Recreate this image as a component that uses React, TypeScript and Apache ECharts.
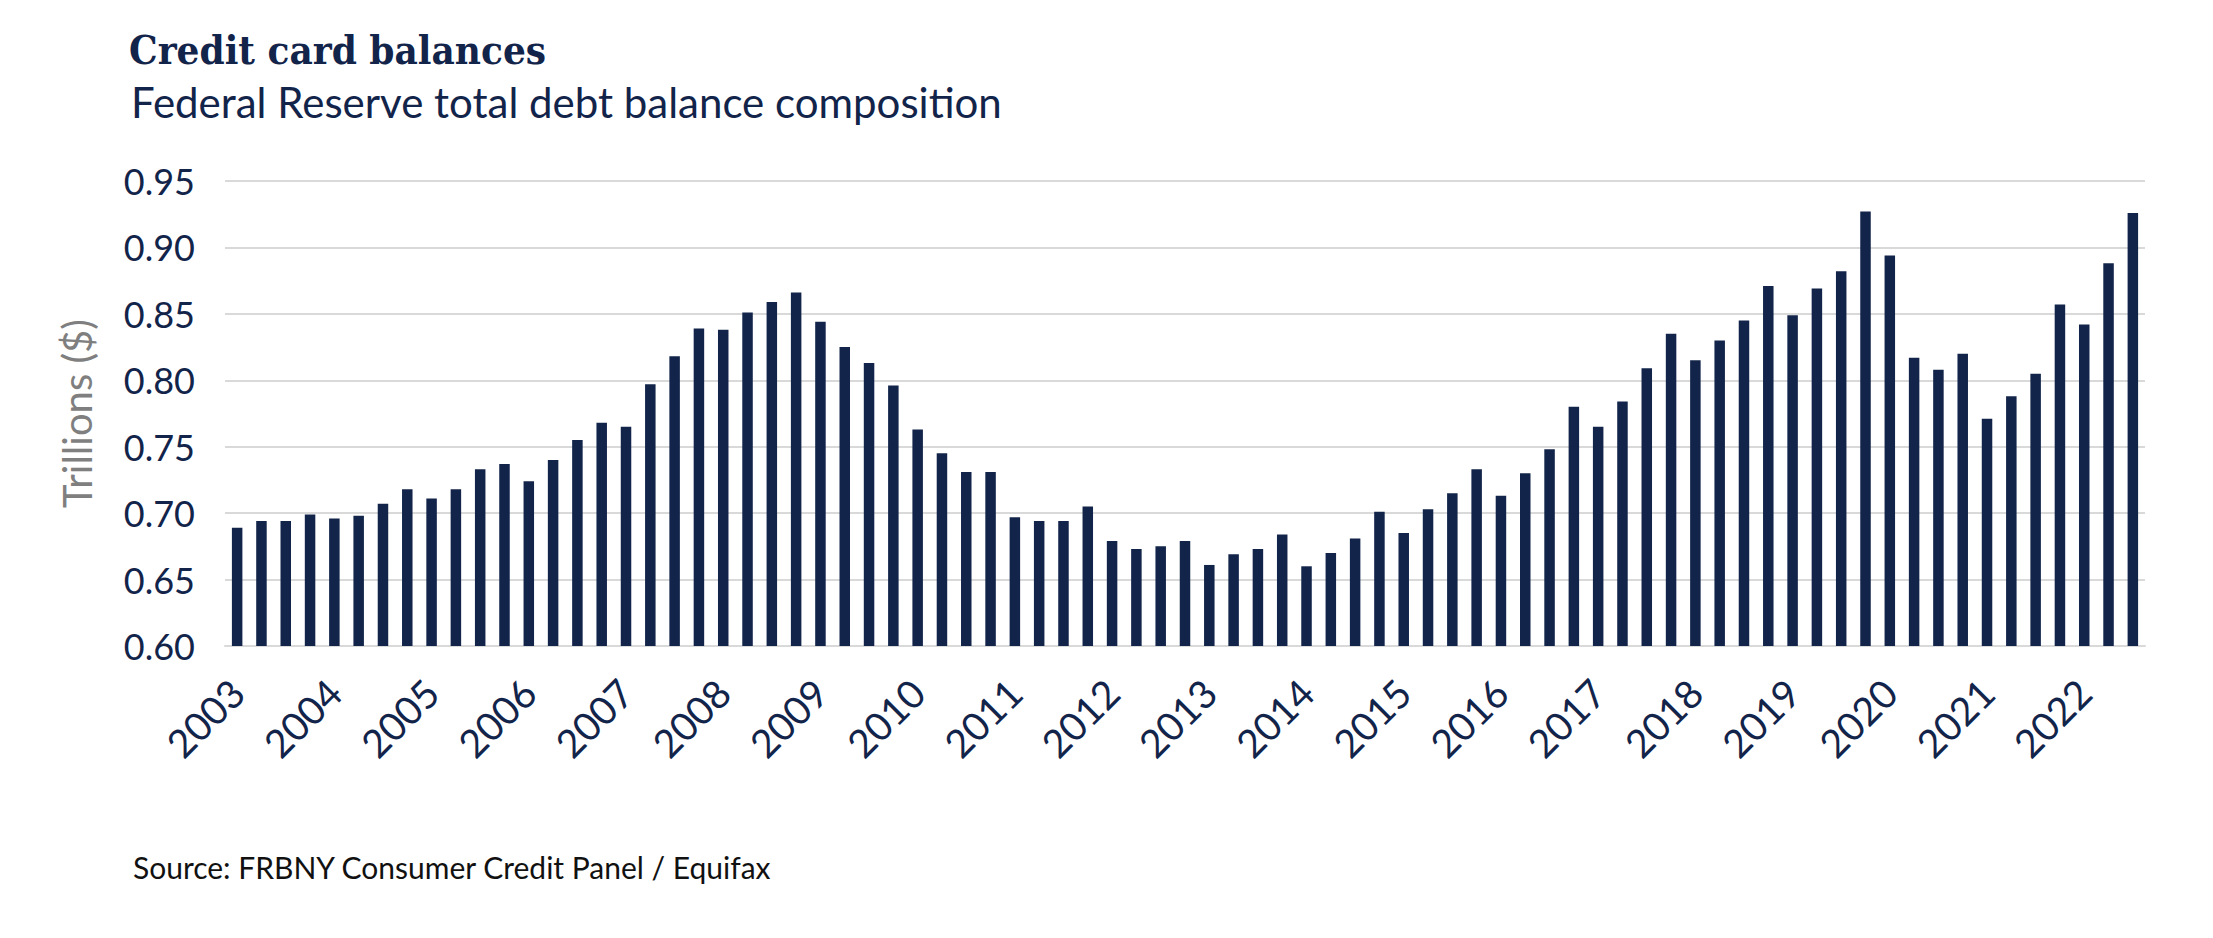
import React, { useEffect, useRef } from "react";
import * as echarts from "echarts";

const YEARS = [
  "2003", "2004", "2005", "2006", "2007", "2008", "2009", "2010", "2011", "2012",
  "2013", "2014", "2015", "2016", "2017", "2018", "2019", "2020", "2021", "2022",
];
const QUARTERS = ["Q1", "Q2", "Q3", "Q4"];
const LAST_QUARTER_COUNT = 79; // 2003 Q1 .. 2022 Q3
const CATEGORIES = YEARS.flatMap((y) => QUARTERS.map((q) => `${y} ${q}`)).slice(0, LAST_QUARTER_COUNT);

// Credit card balances, trillions of dollars
const BALANCES = [
  0.689, 0.694, 0.694, 0.699, // 2003
  0.696, 0.698, 0.707, 0.718, // 2004
  0.711, 0.718, 0.733, 0.737, // 2005
  0.724, 0.740, 0.755, 0.768, // 2006
  0.765, 0.797, 0.818, 0.839, // 2007
  0.838, 0.851, 0.859, 0.866, // 2008
  0.844, 0.825, 0.813, 0.796, // 2009
  0.763, 0.745, 0.731, 0.731, // 2010
  0.697, 0.694, 0.694, 0.705, // 2011
  0.679, 0.673, 0.675, 0.679, // 2012
  0.661, 0.669, 0.673, 0.684, // 2013
  0.660, 0.670, 0.681, 0.701, // 2014
  0.685, 0.703, 0.715, 0.733, // 2015
  0.713, 0.730, 0.748, 0.780, // 2016
  0.765, 0.784, 0.809, 0.835, // 2017
  0.815, 0.830, 0.845, 0.871, // 2018
  0.849, 0.869, 0.882, 0.927, // 2019
  0.894, 0.817, 0.808, 0.820, // 2020
  0.771, 0.788, 0.805, 0.857, // 2021
  0.842, 0.888, 0.926,        // 2022
];

const Y_MIN = 0.6;
const Y_MAX = 0.95;
const Y_STEP = 0.05;

const NAVY = "#12244a";
const SANS = "Lato, 'Noto Sans', sans-serif";

export default function App() {
  const ref = useRef<HTMLDivElement>(null);

  useEffect(() => {
    document.body.style.margin = "0";
    if (!ref.current) return;
    const chart = echarts.init(ref.current, undefined, { renderer: "svg" });
    chart.setOption({
      animation: false,
      backgroundColor: "#ffffff",
      title: [
        {
          text: "Credit card balances",
          left: 124,
          top: 24,
          textStyle: {
            fontFamily: "'DejaVu Serif Condensed', 'DejaVu Serif', serif",
            fontSize: 40,
            fontWeight: "bold",
            color: NAVY,
          },
        },
        {
          text: "Federal Reserve total debt balance composition",
          left: 126,
          top: 76,
          textStyle: { fontFamily: SANS, fontSize: 42, fontWeight: "normal", color: NAVY },
        },
        {
          text: "Source: FRBNY Consumer Credit Panel / Equifax",
          left: 128,
          top: 847,
          textStyle: { fontFamily: SANS, fontSize: 30, fontWeight: "normal", color: "#111111" },
        },
      ],
      grid: { left: 225, right: 68, top: 181, bottom: 292, containLabel: false },
      xAxis: {
        type: "category",
        data: CATEGORIES,
        boundaryGap: true,
        axisLine: { show: true, lineStyle: { color: "#d9d9d9", width: 2 } },
        axisTick: { show: false },
        splitLine: { show: false },
        axisLabel: {
          interval: 3,
          rotate: 45,
          margin: 40,
          formatter: (v: string) => v.slice(0, 4),
          fontSize: 39,
          color: NAVY,
          fontFamily: SANS,
        },
      },
      yAxis: {
        type: "value",
        min: Y_MIN,
        max: Y_MAX,
        interval: Y_STEP,
        axisLine: { show: false },
        axisTick: { show: false },
        splitLine: { lineStyle: { color: "#d9d9d9", width: 2 } },
        axisLabel: {
          formatter: (v: number) => v.toFixed(2),
          fontSize: 36,
          color: NAVY,
          fontFamily: SANS,
          margin: 30,
        },
        name: "Trillions ($)",
        nameLocation: "middle",
        nameGap: 128,
        nameTextStyle: { fontSize: 40, color: "#7f7f7f", fontFamily: SANS },
      },
      series: [
        {
          type: "bar",
          data: BALANCES,
          barWidth: 10.5,
          itemStyle: { color: NAVY },
        },
      ],
    });
    return () => chart.dispose();
  }, []);

  return <div ref={ref} style={{ width: 2213, height: 938 }} />;
}
